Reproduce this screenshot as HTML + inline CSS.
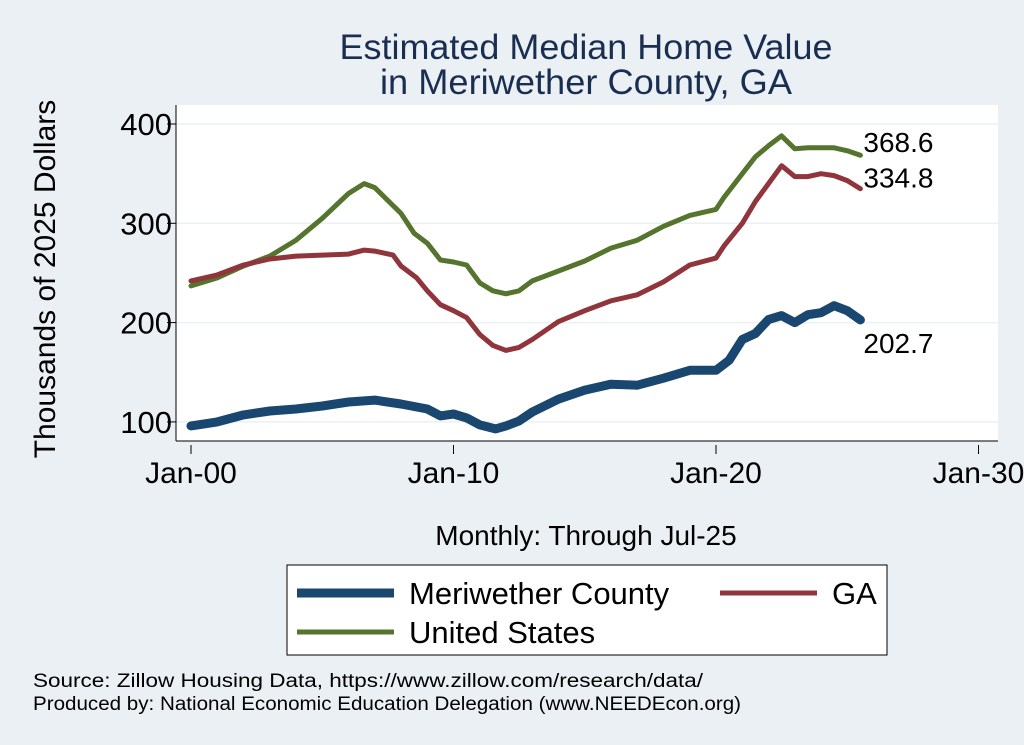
<!DOCTYPE html>
<html><head><meta charset="utf-8"><style>
body{margin:0;background:#eaf0f4;font-family:"Liberation Sans",sans-serif;}
svg{display:block}
</style></head><body>
<svg width="1024" height="745">
<rect x="0" y="0" width="1024" height="745" fill="#eaf0f4"/>
<rect x="176" y="105" width="822" height="336" fill="#ffffff"/>
<text x="586" y="59" text-anchor="middle" font-size="35" textLength="493" lengthAdjust="spacingAndGlyphs" fill="#1a2e52">Estimated Median Home Value</text>
<text x="586" y="94" text-anchor="middle" font-size="35" textLength="412" lengthAdjust="spacingAndGlyphs" fill="#1a2e52">in Meriwether County, GA</text>
<g id="grid"></g>
<g id="axes"></g>
<g id="series"></g>
<text transform="translate(55,279) rotate(-90)" text-anchor="middle" font-size="30" fill="#000">Thousands of 2025 Dollars</text>
<text x="586" y="545" text-anchor="middle" font-size="28" fill="#000">Monthly: Through Jul-25</text>
<g>
<rect x="287" y="565" width="600" height="90" fill="#fff" stroke="#000" stroke-width="1"/>
<line x1="297" y1="593" x2="394" y2="593" stroke="#1a476f" stroke-width="9"/>
<text x="409" y="604" font-size="31">Meriwether County</text>
<line x1="720" y1="593" x2="817" y2="593" stroke="#90353b" stroke-width="5"/>
<text x="832" y="604" font-size="31">GA</text>
<line x1="297" y1="632" x2="394" y2="632" stroke="#55752f" stroke-width="5"/>
<text x="409" y="643" font-size="31">United States</text>
</g>
<text x="33" y="687" font-size="19" textLength="670" lengthAdjust="spacingAndGlyphs">Source: Zillow Housing Data, https://www.zillow.com/research/data/</text>
<text x="33" y="710" font-size="19" textLength="708" lengthAdjust="spacingAndGlyphs">Produced by: National Economic Education Delegation (www.NEEDEcon.org)</text>
</svg>
<script>
const yTicks=[100,200,300,400];
const xTickYears=[2000,2010,2020,2030];
const xTickLabels=["Jan-00","Jan-10","Jan-20","Jan-30"];
const usYears=[2000,2001,2002,2003,2004,2005,2006,2006.6,2007,2008,2008.5,2009,2009.5,2010,2010.5,2011,2011.5,2012,2012.5,2013,2014,2015,2016,2017,2018,2019,2020,2020.3,2021,2021.5,2022,2022.5,2023,2023.5,2024,2024.5,2025,2025.5];
const usValues=[237,245,257,267,283,305,330,340,336,310,290,280,263,261,258,240,232,229,232,242,252,262,275,283,297,308,314,326,350,367,378,388,375,376,376,376,373,368.6];
const gaYears=[2000,2001,2002,2003,2004,2005,2006,2006.6,2007,2007.7,2008,2008.6,2009,2009.5,2010,2010.5,2011,2011.5,2012,2012.5,2013,2013.5,2014,2015,2016,2017,2018,2019,2020,2020.3,2021,2021.5,2022,2022.5,2023,2023.5,2024,2024.5,2025,2025.5];
const gaValues=[242,248,258,264,267,268,269,273,272,268,257,245,232,218,212,205,188,177,172,175,183,192,201,212,222,228,241,258,265,277,300,322,340,358,347,347,350,348,343,334.8];
const coYears=[2000,2001,2002,2003,2004,2005,2006,2007,2008,2009,2009.5,2010,2010.5,2011,2011.6,2012,2012.5,2013,2014,2015,2016,2017,2018,2019,2020,2020.5,2021,2021.5,2022,2022.5,2023,2023.5,2024,2024.5,2025,2025.5];
const coValues=[96,100,107,111,113,116,120,122,118,113,106,108,104,97,93,96,101,110,123,132,138,137,144,152,152,162,183,189,203,207,200,208,210,217,212,202.7];
const NS="http://www.w3.org/2000/svg";
const xs=y=>191+(y-2000)*26.25;
const ys=v=>124+(400-v)*0.993;
function mk(tag,attrs,parent){const e=document.createElementNS(NS,tag);for(const k in attrs)e.setAttribute(k,attrs[k]);parent.appendChild(e);return e;}
const grid=document.getElementById('grid'),axes=document.getElementById('axes'),ser=document.getElementById('series');
yTicks.forEach(v=>{
 const g=mk('line',{x1:176,x2:998,y1:ys(v),y2:ys(v),stroke:'#eaf0f4','stroke-width':1.5},grid);
 
 
 const t=mk('line',{x1:167,x2:176,y1:ys(v),y2:ys(v),stroke:'#000','stroke-width':1},axes);
 
 
 const l=mk('text',{x:172,y:ys(v)+11,'text-anchor':'end','font-size':31},axes);l.textContent=v;
 
 
});
mk('line',{x1:176,x2:176,y1:105,y2:441,stroke:'#000','stroke-width':1},axes);
mk('line',{x1:176,x2:998,y1:441,y2:441,stroke:'#000','stroke-width':1},axes);
xTickYears.forEach((yr,i)=>{
 const t=mk('line',{x1:xs(yr),x2:xs(yr),y1:445,y2:454,stroke:'#000','stroke-width':1},axes);
 
 
 const l=mk('text',{x:xs(yr),y:483,'text-anchor':'middle','font-size':30},axes);l.textContent=xTickLabels[i];
 
 
});
function line(years,vals,color,w,name,dy){
 const d=years.map((y,i)=>(i?'L':'M')+xs(y).toFixed(1)+','+ys(vals[i]).toFixed(1)).join(' ');
 const p=mk('path',{d:d,fill:'none',stroke:color,'stroke-width':w,'stroke-linejoin':'round','stroke-linecap':'round'},ser);
 
 
 const last=vals[vals.length-1];
 const t=mk('text',{x:xs(years[years.length-1])+3,y:ys(last)+dy,'font-size':28},ser);
 t.textContent=last.toFixed(1);
 
 
}
line(usYears,usValues,'#55752f',5,'line-us',-3);
line(gaYears,gaValues,'#90353b',5,'line-ga',-1);
line(coYears,coValues,'#1a476f',9,'line-county',33);
</script>
</body></html>
